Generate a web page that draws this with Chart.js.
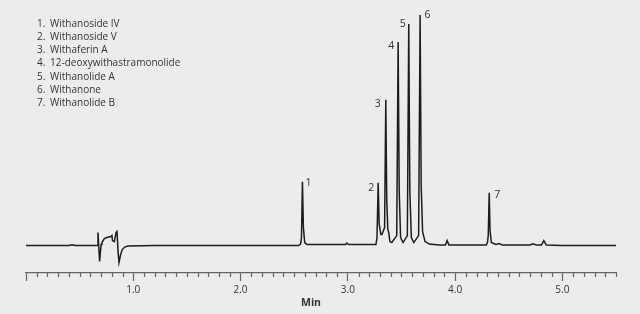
<!DOCTYPE html>
<html><head><meta charset="utf-8">
<script src="https://cdn.jsdelivr.net/npm/chart.js@4/dist/chart.umd.min.js"></script>
<style>html,body{margin:0;padding:0;background:#ececec;}canvas{display:block;}</style>
</head><body>
<canvas id="c" width="640" height="314"></canvas>
<script>
// Retention time (min) and detector signal (baseline = 0)
const times = [0.00,0.40,0.43,0.46,0.664,0.671,0.686,0.700,0.708,0.730,0.755,0.790,0.801,0.806,0.823,0.840,0.848,0.858,0.867,0.880,0.897,0.920,0.950,1.200,
  2.540,2.560,2.568,2.577,2.586,2.598,2.620,2.980,2.990,3.010,
  3.262,3.272,3.283,3.292,3.308,3.318,3.343,3.354,3.363,3.373,3.382,3.392,3.410,
  3.456,3.469,3.479,3.492,3.515,3.555,3.568,3.578,3.592,3.615,
  3.660,3.674,3.684,3.697,3.720,3.760,3.850,3.910,3.926,3.942,
  4.290,4.302,4.309,4.318,4.326,4.338,4.380,4.414,4.440,4.700,4.720,4.760,4.805,4.827,4.850,5.000,5.500];
const signal = [0,0,0.8,0,0,13,-16,1,3,7,8,9,10,5,4,13,15,-6,-17,-10,-4,-1.5,-0.5,0,
  0,1.5,8,64,18,3,1,1,2.5,1,
  1,8,63,22,11,11,18,146,45,16,13,4,3,
  10,204,55,8,3,10,222,55,8,3,
  10,231,60,14,4,1.5,0.5,0.5,5,0.5,
  0.5,3,10,53,15,3,1,2,0.5,0.5,1.8,0.5,0.5,5,0.5,0,0];
// Peak labels
const peakLabels = ['1','2','3','4','5','6','7'];
const peakTimes = [2.577,3.283,3.354,3.469,3.568,3.674,4.318];
const peakHeights = [64,63,146,204,222,231,53];
// Compound legend
const compounds = ['Withanoside IV','Withanoside V','Withaferin A','12-deoxywithastramonolide','Withanolide A','Withanone','Withanolide B'];
const xTitle = 'Min';

// label placement (style)
const labelDx = [6,-7,-8,-7,-6,7.5,8];
const labelDy = [1,5,4,4,0,0,2];

const points = times.map((t,i)=>({x:t,y:signal[i]}));
const isMajor = v => Math.abs(v - Math.round(v)) < 1e-6;
const FONT = '"Open Sans", "Noto Sans", sans-serif';

const overlay = {
  id:'overlay',
  afterDraw(chart){
    const ctx = chart.ctx, xs = chart.scales.x, ys = chart.scales.y;
    ctx.save();
    // minor ticks
    ctx.strokeStyle = '#666'; ctx.lineWidth = 1.2;
    const yb = chart.chartArea.bottom;
    xs.ticks.forEach(tk=>{
      if(isMajor(tk.value)) return;
      const px = Math.round(xs.getPixelForValue(tk.value))+0.5;
      ctx.beginPath(); ctx.moveTo(px,yb); ctx.lineTo(px,yb+4.5); ctx.stroke();
    });
    // peak labels
    ctx.fillStyle = '#333'; ctx.font = '10.5px '+FONT;
    ctx.textAlign='center'; ctx.textBaseline='middle';
    peakLabels.forEach((l,i)=>{
      ctx.fillText(l, xs.getPixelForValue(peakTimes[i])+labelDx[i], ys.getPixelForValue(peakHeights[i])+labelDy[i]);
    });
    // legend
    ctx.textAlign='left'; ctx.font='10px '+FONT;
    compounds.forEach((c,i)=>{
      const y = 24 + i*13.2;
      ctx.fillText((i+1)+'.', 37, y);
      ctx.fillText(c, 50, y);
    });
    // axis title
    ctx.textAlign='center'; ctx.font='bold 10.5px '+FONT;
    ctx.fillText(xTitle, 311, 303);
    ctx.restore();
  }
};

new Chart(document.getElementById('c'),{
  type:'line',
  data:{datasets:[{data:points,borderColor:'#1c1c1c',borderWidth:1.5,pointRadius:0,tension:0,fill:false}]},
  options:{
    responsive:false,animation:false,devicePixelRatio:1,
    layout:{padding:{left:26,right:24,top:10,bottom:15}},
    plugins:{legend:{display:false},tooltip:{enabled:false}},
    scales:{
      x:{type:'linear',min:0,max:5.5,
        border:{display:true,color:'#666',width:1.2},
        grid:{display:true,drawOnChartArea:false,drawTicks:true,tickLength:8.5,tickWidth:1.2,
          tickColor:c=>isMajor(c.tick.value)?'#666':'rgba(0,0,0,0)'},
        ticks:{stepSize:0.1,autoSkip:false,maxRotation:0,padding:3,color:'#333',font:{family:FONT,size:10},
          callback:v=>(isMajor(v)&&v>0.5)?Number(v).toFixed(1):''}
      },
      y:{display:false,min:-27,max:236}
    }
  },
  plugins:[overlay]
});
</script>
</body></html>
